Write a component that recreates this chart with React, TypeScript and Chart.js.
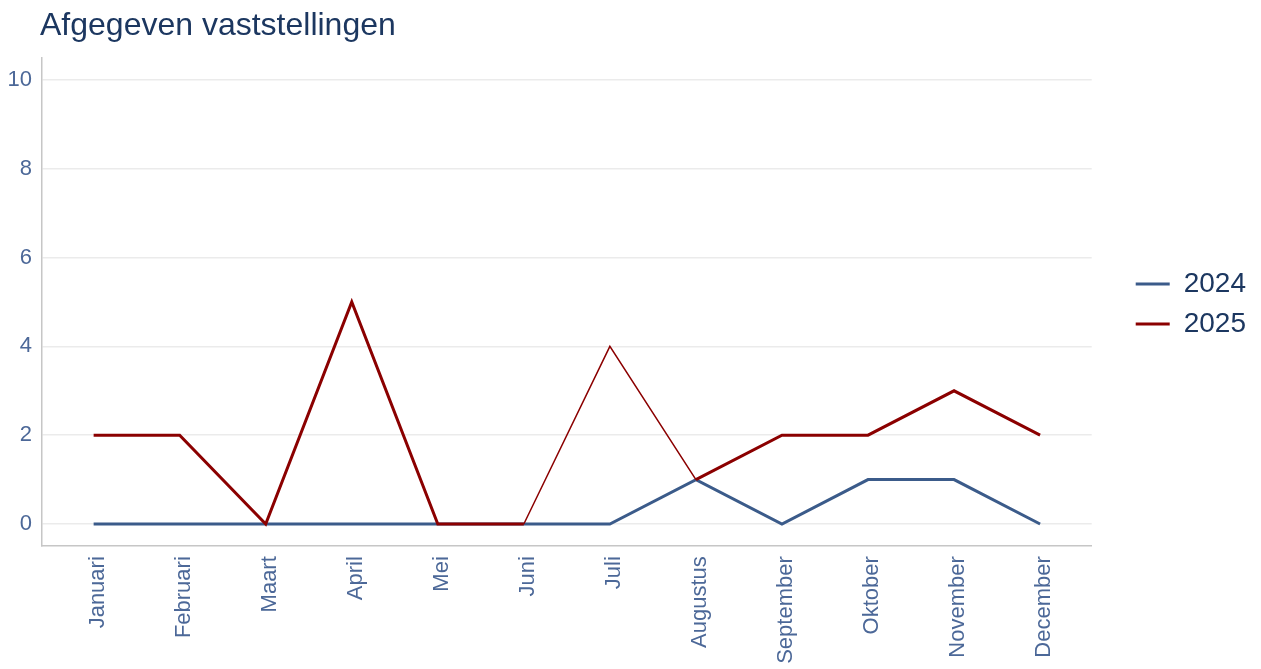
import React, { useEffect, useRef } from "react";
import { Chart, registerables } from "chart.js";

Chart.register(...registerables);

const chartTitle = "Afgegeven vaststellingen";
const months = [
  "Januari",
  "Februari",
  "Maart",
  "April",
  "Mei",
  "Juni",
  "Juli",
  "Augustus",
  "September",
  "Oktober",
  "November",
  "December",
];
const seriesNames = ["2024", "2025"];
const values2024 = [0, 0, 0, 0, 0, 0, 0, 1, 0, 1, 1, 0];
const values2025 = [2, 2, 0, 5, 0, 0, 4, 1, 2, 2, 3, 2];
const yTickValues = [0, 2, 4, 6, 8, 10];
// segments of the 2025 line (by start index) that are drawn thin in the reference
const thinSegments2025 = [5, 6];

const FONT = '"Liberation Sans", Arial, Helvetica, sans-serif';
const COLOR_2024 = "#3b5b8a";
const COLOR_2025 = "#8b0000";
const TICK_COLOR = "#4c6898";
const TITLE_COLOR = "#1c3760";

const shiftPlugin = {
  id: "shiftBoxes",
  afterLayout(chart: any) {
    const t = chart.titleBlock;
    if (t) {
      t.left += 32;
      t.right += 32;
    }
    const l = chart.legend;
    if (l) {
      l.left += 32;
      l.right += 32;
      l.top += 2;
      l.bottom += 2;
    }
  },
};

export default function App() {
  const canvasRef = useRef<HTMLCanvasElement | null>(null);

  useEffect(() => {
    if (!canvasRef.current) return;
    const colors = [COLOR_2024, COLOR_2025];
    const chart = new Chart(canvasRef.current, {
      type: "line",
      data: {
        datasets: [
          {
            label: seriesNames[0],
            data: months.map((_, i) => ({ x: i, y: values2024[i] })),
            borderColor: colors[0],
            backgroundColor: colors[0],
            borderWidth: 3,
            pointRadius: 0,
            pointHoverRadius: 0,
            tension: 0,
            order: 1,
          },
          {
            label: seriesNames[1],
            data: months.map((_, i) => ({ x: i, y: values2025[i] })),
            borderColor: colors[1],
            backgroundColor: colors[1],
            borderWidth: 3,
            pointRadius: 0,
            pointHoverRadius: 0,
            tension: 0,
            order: 0,
            segment: {
              borderWidth: (ctx: any) =>
                thinSegments2025.includes(ctx.p0DataIndex) ? 1.5 : 3,
            },
          },
        ],
      },
      options: {
        animation: false,
        responsive: true,
        maintainAspectRatio: false,
        layout: { padding: { left: 8, right: 37, top: 0, bottom: 5 } },
        font: { family: FONT },
        plugins: {
          tooltip: { enabled: false },
          title: {
            display: true,
            text: chartTitle,
            align: "start",
            color: TITLE_COLOR,
            font: { family: FONT, size: 32, weight: "normal" },
            padding: { top: 7, bottom: 12.4 },
          },
          legend: {
            display: true,
            position: "right",
            align: "center",
            fullSize: false,
            labels: {
              boxWidth: 34,
              boxHeight: 3,
              padding: 12,
              color: TITLE_COLOR,
              font: { family: FONT, size: 28 },
              generateLabels: (c: any) =>
                c.data.datasets.map((ds: any, i: number) => ({
                  text: ds.label,
                  fillStyle: ds.borderColor,
                  strokeStyle: ds.borderColor,
                  fontColor: TITLE_COLOR,
                  lineWidth: 0,
                  hidden: false,
                  datasetIndex: i,
                })),
            },
          },
        },
        scales: {
          x: {
            type: "linear",
            min: -0.6,
            max: 11.6,
            afterBuildTicks: (s: any) => {
              s.ticks = months.map((_, i) => ({ value: i }));
            },
            afterFit: (s: any) => {
              s.height = 117.8;
            },
            ticks: {
              autoSkip: false,
              minRotation: 90,
              maxRotation: 90,
              padding: 10,
              labelOffset: 4,
              color: TICK_COLOR,
              font: { family: FONT, size: 22 },
              callback: (v: any) => months[v] ?? "",
            },
            grid: { display: false, drawTicks: false },
            border: { display: true, color: "#c6c6c6", width: 1.5 },
          },
          y: {
            type: "linear",
            min: -0.5,
            max: 10.5,
            afterBuildTicks: (s: any) => {
              s.ticks = yTickValues.map((v) => ({ value: v }));
            },
            afterFit: (s: any) => {
              s.width = 34;
            },
            ticks: {
              padding: 10,
              color: TICK_COLOR,
              font: { family: FONT, size: 22 },
              callback: (v: any) => String(v),
            },
            grid: { color: "#ebebeb", lineWidth: 1.5, drawTicks: false },
            border: { display: true, color: "#c6c6c6", width: 1.5 },
          },
        },
      },
      plugins: [shiftPlugin],
    } as any);
    return () => chart.destroy();
  }, []);

  return (
    <div
      style={{
        position: "fixed",
        left: 0,
        top: 0,
        width: 1261,
        height: 669,
        background: "#ffffff",
      }}
    >
      <canvas ref={canvasRef} />
    </div>
  );
}
